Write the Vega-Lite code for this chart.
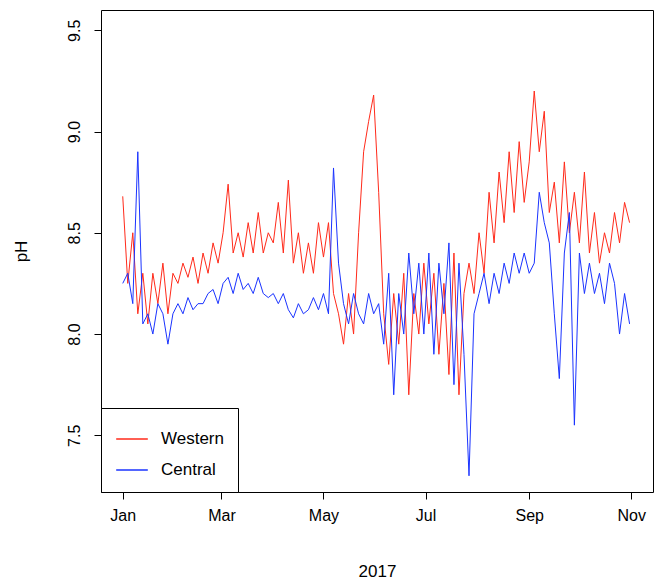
{
"$schema": "https://vega.github.io/schema/vega-lite/v6.json",
"width": 552, "height": 482,
"autosize": "none",
"padding": {"left": 101, "top": 10, "right": 2, "bottom": 93},
"background": "white",
"config": {"view": {"stroke": "black", "strokeWidth": 1}, "font": "Liberation Sans"},
"data": {"values": [
{"d":"2017-01-01","W":8.68,"C":8.25},{"d":"2017-01-04","W":8.25,"C":8.3},{"d":"2017-01-07","W":8.5,"C":8.15},{"d":"2017-01-10","W":8.1,"C":8.9},{"d":"2017-01-13","W":8.3,"C":8.05},{"d":"2017-01-16","W":8.05,"C":8.1},{"d":"2017-01-19","W":8.3,"C":8.0},{"d":"2017-01-22","W":8.15,"C":8.15},{"d":"2017-01-25","W":8.35,"C":8.1},{"d":"2017-01-28","W":8.1,"C":7.95},{"d":"2017-01-31","W":8.3,"C":8.1},
{"d":"2017-02-03","W":8.25,"C":8.15},{"d":"2017-02-06","W":8.35,"C":8.1},{"d":"2017-02-09","W":8.28,"C":8.18},{"d":"2017-02-12","W":8.38,"C":8.12},{"d":"2017-02-15","W":8.25,"C":8.15},{"d":"2017-02-18","W":8.4,"C":8.15},{"d":"2017-02-21","W":8.3,"C":8.2},{"d":"2017-02-24","W":8.45,"C":8.22},{"d":"2017-02-27","W":8.35,"C":8.15},
{"d":"2017-03-02","W":8.5,"C":8.25},{"d":"2017-03-05","W":8.74,"C":8.28},{"d":"2017-03-08","W":8.4,"C":8.2},{"d":"2017-03-11","W":8.5,"C":8.3},{"d":"2017-03-14","W":8.38,"C":8.22},{"d":"2017-03-17","W":8.55,"C":8.25},{"d":"2017-03-20","W":8.4,"C":8.2},{"d":"2017-03-23","W":8.6,"C":8.28},{"d":"2017-03-26","W":8.4,"C":8.2},{"d":"2017-03-29","W":8.5,"C":8.18},
{"d":"2017-04-01","W":8.45,"C":8.2},{"d":"2017-04-04","W":8.65,"C":8.15},{"d":"2017-04-07","W":8.4,"C":8.2},{"d":"2017-04-10","W":8.76,"C":8.12},{"d":"2017-04-13","W":8.35,"C":8.08},{"d":"2017-04-16","W":8.5,"C":8.15},{"d":"2017-04-19","W":8.3,"C":8.1},{"d":"2017-04-22","W":8.45,"C":8.12},{"d":"2017-04-25","W":8.3,"C":8.18},{"d":"2017-04-28","W":8.55,"C":8.12},
{"d":"2017-05-01","W":8.38,"C":8.2},{"d":"2017-05-04","W":8.55,"C":8.1},{"d":"2017-05-07","W":8.2,"C":8.82},{"d":"2017-05-10","W":8.1,"C":8.35},{"d":"2017-05-13","W":7.95,"C":8.15},{"d":"2017-05-16","W":8.2,"C":8.05},{"d":"2017-05-19","W":8.0,"C":8.2},{"d":"2017-05-22","W":8.5,"C":8.1},{"d":"2017-05-25","W":8.9,"C":8.05},{"d":"2017-05-28","W":9.05,"C":8.2},{"d":"2017-05-31","W":9.18,"C":8.1},
{"d":"2017-06-03","W":8.7,"C":8.15},{"d":"2017-06-06","W":8.1,"C":7.95},{"d":"2017-06-09","W":7.85,"C":8.3},{"d":"2017-06-12","W":8.2,"C":7.7},{"d":"2017-06-15","W":7.95,"C":8.2},{"d":"2017-06-18","W":8.3,"C":8.0},{"d":"2017-06-21","W":7.7,"C":8.4},{"d":"2017-06-24","W":8.2,"C":8.1},{"d":"2017-06-27","W":8.0,"C":8.35},{"d":"2017-06-30","W":8.35,"C":8.0},
{"d":"2017-07-03","W":8.05,"C":8.4},{"d":"2017-07-06","W":8.3,"C":7.9},{"d":"2017-07-09","W":7.9,"C":8.35},{"d":"2017-07-12","W":8.25,"C":8.1},{"d":"2017-07-15","W":7.8,"C":8.45},{"d":"2017-07-18","W":8.4,"C":7.75},{"d":"2017-07-21","W":7.7,"C":8.35},{"d":"2017-07-24","W":8.2,"C":7.9},{"d":"2017-07-27","W":8.35,"C":7.3},{"d":"2017-07-30","W":8.2,"C":8.1},
{"d":"2017-08-02","W":8.5,"C":8.2},{"d":"2017-08-05","W":8.3,"C":8.3},{"d":"2017-08-08","W":8.7,"C":8.15},{"d":"2017-08-11","W":8.45,"C":8.3},{"d":"2017-08-14","W":8.8,"C":8.2},{"d":"2017-08-17","W":8.55,"C":8.35},{"d":"2017-08-20","W":8.9,"C":8.25},{"d":"2017-08-23","W":8.6,"C":8.4},{"d":"2017-08-26","W":8.95,"C":8.3},{"d":"2017-08-29","W":8.65,"C":8.4},
{"d":"2017-09-01","W":8.85,"C":8.3},{"d":"2017-09-04","W":9.2,"C":8.35},{"d":"2017-09-07","W":8.9,"C":8.7},{"d":"2017-09-10","W":9.1,"C":8.55},{"d":"2017-09-13","W":8.6,"C":8.45},{"d":"2017-09-16","W":8.75,"C":8.1},{"d":"2017-09-19","W":8.45,"C":7.78},{"d":"2017-09-22","W":8.85,"C":8.4},{"d":"2017-09-25","W":8.5,"C":8.6},{"d":"2017-09-28","W":8.7,"C":7.55},
{"d":"2017-10-01","W":8.45,"C":8.4},{"d":"2017-10-04","W":8.8,"C":8.2},{"d":"2017-10-07","W":8.4,"C":8.35},{"d":"2017-10-10","W":8.6,"C":8.2},{"d":"2017-10-13","W":8.35,"C":8.3},{"d":"2017-10-16","W":8.5,"C":8.15},{"d":"2017-10-19","W":8.4,"C":8.35},{"d":"2017-10-22","W":8.6,"C":8.25},{"d":"2017-10-25","W":8.45,"C":8.0},{"d":"2017-10-28","W":8.65,"C":8.2},{"d":"2017-10-31","W":8.55,"C":8.05}
]},
"transform": [{"fold": ["W", "C"], "as": ["k", "pH"]}, {"calculate": "datum.k == 'W' ? 'Western' : 'Central'", "as": "site"}],
"mark": {"type": "line", "strokeWidth": 1, "clip": true},
"encoding": {
"x": {"field": "d", "type": "temporal", "title": "2017",
"scale": {"domain": ["2016-12-19", "2017-11-14"], "nice": false},
"axis": {"values": ["2017-01-01", "2017-03-01", "2017-05-01", "2017-07-01", "2017-09-01", "2017-11-01"], "format": "%b", "domain": false, "grid": false, "tickColor": "black", "tickSize": 7, "labelFontSize": 16, "labelColor": "black", "labelPadding": 8, "titleFontSize": 17, "titleFontWeight": "normal", "titlePadding": 40, "titleColor": "black"}},
"y": {"field": "pH", "type": "quantitative", "title": "pH",
"scale": {"domain": [7.22, 9.6], "nice": false, "zero": false},
"axis": {"values": [7.5, 8.0, 8.5, 9.0, 9.5], "format": ".1f", "domain": false, "grid": false, "tickColor": "black", "tickSize": 7, "labelAngle": -90, "labelAlign": "center", "labelBaseline": "bottom", "labelFontSize": 16, "labelColor": "black", "labelPadding": 12, "titleFontSize": 17, "titleFontWeight": "normal", "titlePadding": 36, "titleColor": "black"}},
"color": {"field": "site", "type": "nominal", "title": null,
"scale": {"domain": ["Western", "Central"], "range": ["#ff2a1a", "#1a33ff"]},
"legend": {"orient": "bottom-left", "offset": 0, "strokeColor": "black", "fillColor": "white", "padding": 14, "symbolType": "stroke", "symbolSize": 1000, "symbolStrokeWidth": 1.5, "labelFontSize": 17, "labelColor": "black", "labelOffset": 12, "rowPadding": 6, "labelLimit": 200, "columnPadding": 0}}
}
}
